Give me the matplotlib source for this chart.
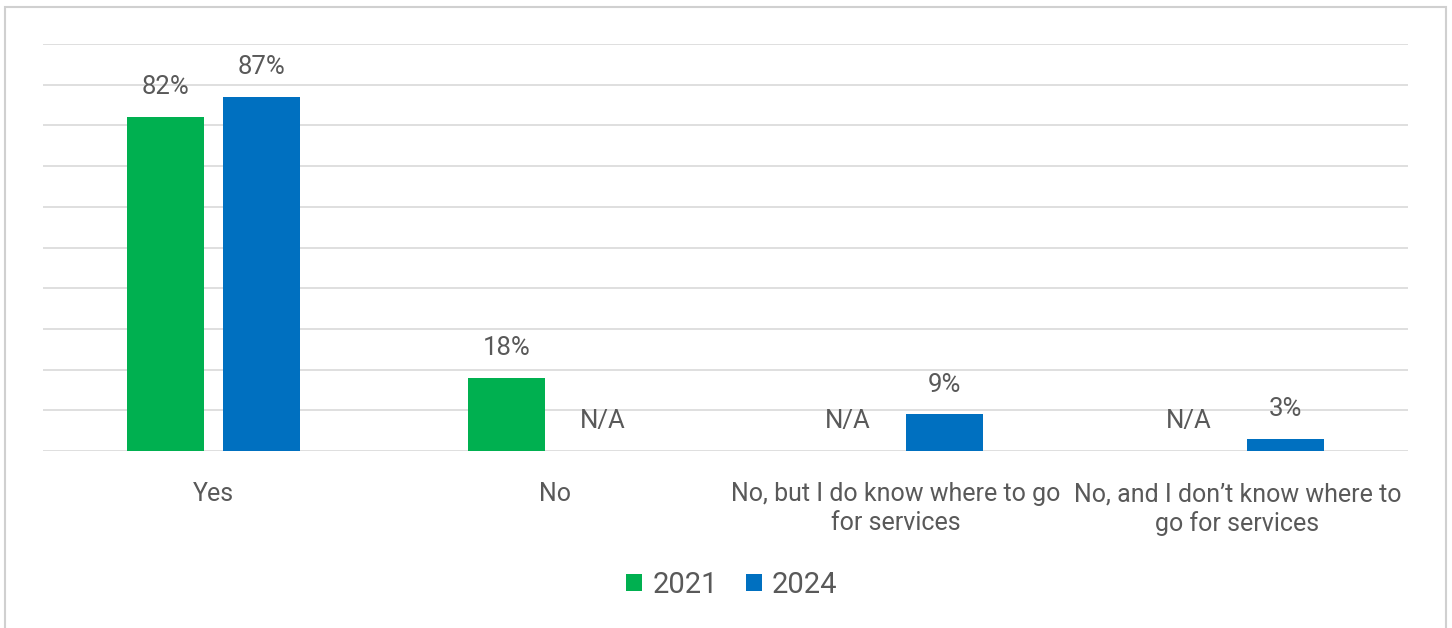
import matplotlib.pyplot as plt
import numpy as np
from matplotlib.patches import Rectangle

categories = ["Yes", "No", "No, but I do know where to go\nfor services",
              "No, and I don\u2019t know where to\ngo for services"]
series_names = ["2021", "2024"]
values_2021 = [82, 18, None, None]
values_2024 = [87, None, 9, 3]
colors = ["#00B050", "#0070C0"]

plt.rcParams['font.family'] = ['Roboto', 'DejaVu Sans']
text_color = "#595959"

fig = plt.figure(figsize=(14.52, 6.28), dpi=100)
ax = fig.add_axes([43 / 1452, 1 - 451 / 628, (1408 - 43) / 1452, (451 - 44) / 628])

# outer chart frame
fig.patches.append(Rectangle((5 / 1452, -0.05), 1441 / 1452, 1.05 - 7 / 628,
                             transform=fig.transFigure, fill=False,
                             edgecolor="#D0D0D0", linewidth=1.5))

x = np.arange(len(categories))
width = 0.226
offset = 0.1415
label_gap = 21.5  # points between bar top and label centre

for i, (name, vals, col) in enumerate(zip(series_names, [values_2021, values_2024], colors)):
    pos = x + (-offset if i == 0 else offset)
    for p, v in zip(pos, vals):
        if v is None:
            ax.annotate("N/A", (p, 0), xytext=(0, label_gap), textcoords="offset points",
                        ha="center", va="center", fontsize=18.5, color=text_color)
            continue
        ax.bar(p, v, width=width, color=col, zorder=3)
        ax.annotate(f"{v}%", (p, v), xytext=(0, label_gap), textcoords="offset points",
                    ha="center", va="center", fontsize=18.5, color=text_color)
    ax.bar([np.nan], [0], color=col, label=name)

ax.set_xlim(-0.5, 3.5)
ax.set_ylim(0, 100)
ax.set_yticks(np.arange(0, 101, 10))
ax.yaxis.grid(True, color="#D9D9D9", linewidth=1.2, zorder=0)
ax.set_axisbelow(True)
ax.tick_params(axis="y", left=False, labelleft=False)
ax.tick_params(axis="x", bottom=False, labelsize=18, labelcolor=text_color, pad=19)
ax.set_xticks(x)
ax.set_xticklabels(categories, linespacing=1.25)
for s in ax.spines.values():
    s.set_visible(False)

leg = fig.legend(loc="center", bbox_to_anchor=(732 / 1452, 1 - 585 / 628), ncol=2,
                 frameon=False, fontsize=21, handlelength=0.55, handleheight=0.55,
                 handletextpad=0.35, columnspacing=0.95, labelcolor=text_color)

fig.savefig("out.png", dpi=100, facecolor="white")
